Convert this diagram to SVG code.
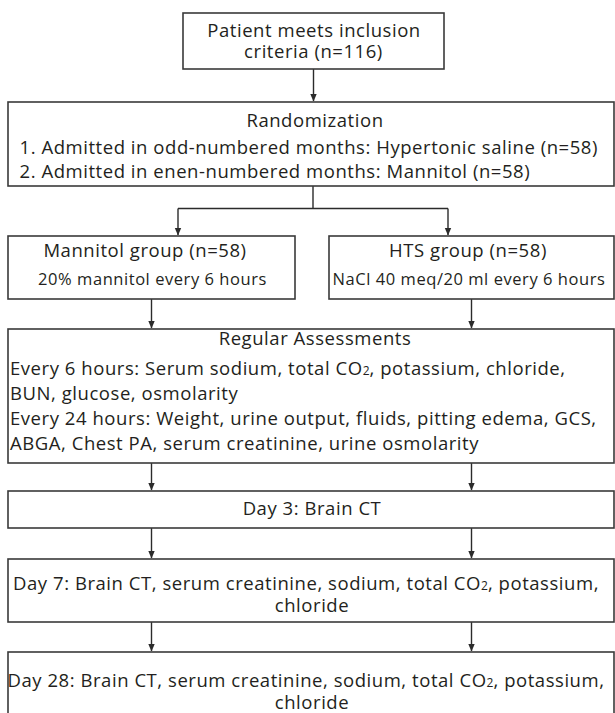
<svg xmlns="http://www.w3.org/2000/svg" width="615" height="713" viewBox="0 0 615 713">
<defs>
<marker id="ah" markerWidth="8" markerHeight="8" refX="7" refY="4" orient="auto" markerUnits="userSpaceOnUse">
<path d="M0,0.8 L7.5,4 L0,7.2 Z" fill="#2b2b2b"/>
</marker>
<style>
.box{fill:#fff;stroke:#3a3a3a;stroke-width:1.6}
.t{font-family:"Open Sans","Noto Sans","Liberation Sans",sans-serif;font-size:18.5px;letter-spacing:0.55px;fill:#231f20}
.s{font-size:16.5px}
.c{text-anchor:middle}
.sub{font-size:12px;letter-spacing:0}
.ln{fill:none;stroke:#2b2b2b;stroke-width:1.4}
</style>
</defs>
<rect width="615" height="713" fill="#fff"/>
<g id="connectors">
<path class="ln" d="M313.5,69 V101" marker-end="url(#ah)"/>
<path class="ln" d="M313,186 V208.5 M178,208.5 H448"/>
<path class="ln" d="M178,208.5 V235" marker-end="url(#ah)"/>
<path class="ln" d="M448,208.5 V235" marker-end="url(#ah)"/>
<path class="ln" d="M151.5,299 V328" marker-end="url(#ah)"/>
<path class="ln" d="M471.5,299 V328" marker-end="url(#ah)"/>
<path class="ln" d="M151.5,463 V490" marker-end="url(#ah)"/>
<path class="ln" d="M471.5,463 V490" marker-end="url(#ah)"/>
<path class="ln" d="M151.5,528 V558" marker-end="url(#ah)"/>
<path class="ln" d="M471.5,528 V558" marker-end="url(#ah)"/>
<path class="ln" d="M151.5,622 V651" marker-end="url(#ah)"/>
<path class="ln" d="M471.5,622 V651" marker-end="url(#ah)"/>
</g>
<g id="inclusion">
<rect class="box" x="183" y="13" width="261" height="56"/>
<text class="t c" x="314" y="36.5">Patient meets inclusion</text>
<text class="t c" x="313.5" y="57.5">criteria (n=116)</text>
</g>
<g id="randomization">
<rect class="box" x="8" y="102" width="606" height="84"/>
<text class="t c" x="315" y="127">Randomization</text>
<text class="t" x="19.5" y="154">1. Admitted in odd-numbered months: Hypertonic saline (n=58)</text>
<text class="t" x="19.5" y="178">2. Admitted in enen-numbered months: Mannitol (n=58)</text>
</g>
<g id="mannitol">
<rect class="box" x="8" y="236" width="287" height="63"/>
<text class="t c" x="145" y="257">Mannitol group (n=58)</text>
<text class="t s c" x="152.5" y="285">20% mannitol every 6 hours</text>
</g>
<g id="hts">
<rect class="box" x="329" y="236" width="285" height="63"/>
<text class="t c" x="468" y="257">HTS group (n=58)</text>
<text class="t s c" x="469" y="285">NaCl 40 meq/20 ml every 6 hours</text>
</g>
<g id="assessments">
<rect class="box" x="8" y="329" width="606" height="134"/>
<text class="t c" x="315" y="345">Regular Assessments</text>
<text class="t" x="10" y="375">Every 6 hours: Serum sodium, total CO<tspan class="sub">2</tspan>, potassium, chloride,</text>
<text class="t" x="10" y="400">BUN, glucose, osmolarity</text>
<text class="t" x="10" y="425">Every 24 hours: Weight, urine output, fluids, pitting edema, GCS,</text>
<text class="t" x="10" y="450">ABGA, Chest PA, serum creatinine, urine osmolarity</text>
</g>
<g id="day3">
<rect class="box" x="8" y="491" width="606" height="37"/>
<text class="t c" x="312" y="515">Day 3: Brain CT</text>
</g>
<g id="day7">
<rect class="box" x="8" y="559" width="606" height="63"/>
<text class="t c" x="306" y="590">Day 7: Brain CT, serum creatinine, sodium, total CO<tspan class="sub">2</tspan>, potassium,</text>
<text class="t c" x="312" y="612">chloride</text>
</g>
<g id="day28">
<rect class="box" x="8" y="652" width="606" height="70"/>
<text class="t c" x="306" y="687">Day 28: Brain CT, serum creatinine, sodium, total CO<tspan class="sub">2</tspan>, potassium,</text>
<text class="t c" x="312" y="708.5">chloride</text>
</g>
</svg>
